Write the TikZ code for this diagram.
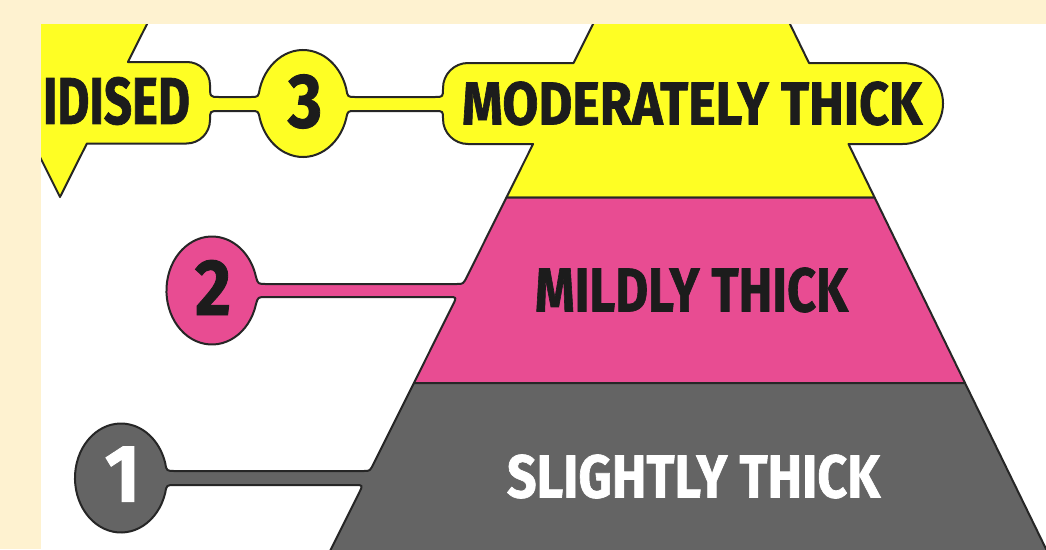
\documentclass[tikz,border=0pt]{standalone}
\usepackage{fontspec}
\usepackage{graphicx}
\newfontfamily\labelfont{Fira Sans}[BoldFeatures={FakeBold=1.2}]
\definecolor{bgcream}{RGB}{254,242,208}
\definecolor{tieryellow}{RGB}{254,254,36}
\definecolor{tierpink}{RGB}{232,76,146}
\definecolor{tiergray}{RGB}{100,100,100}
\definecolor{edgeline}{RGB}{38,38,38}
\definecolor{ink}{RGB}{28,28,28}
\newcommand{\fitword}[3]{\resizebox{#1pt}{#2pt}{\labelfont\bfseries #3}}

\begin{document}
\begin{tikzpicture}[x=1pt, y=-1pt,
    tier/.style={draw=edgeline, line width=2pt, line join=round},
    word/.style={inner sep=0pt, text=ink}]
  \useasboundingbox (0,0) rectangle (1046,549);
  \fill[bgcream] (0,0) rectangle (1046,549);
  \fill[white] (41,24) rectangle (1046,549);
  \begin{scope}
    \clip (41,24) rectangle (1046,549);
    % top tier, both tabs and pin 3
    \path[tier, fill=tieryellow] (30,0) -- (159.1,0) -- (127.9,62) -- (187,62)
      arc[start angle=-90, end angle=0, radius=23] .. controls (210,97) .. (219,97)
      -- (251,97) .. controls (258.3,97) .. (259.8,88.5)
      arc[start angle=196.28, end angle=343.72, x radius=45, y radius=53.5]
      .. controls (347.7,97) .. (355,97) -- (435,97) .. controls (443,97) .. (443,88)
      arc[start angle=180, end angle=270, radius=25]
      -- (573.5,63) -- (605,0) -- (778.3,0) -- (809,63) -- (902.5,63)
      arc[start angle=-90, end angle=90, radius=40.5]
      -- (848.5,144) -- (874.6,197.5) -- (506.4,197.5) -- (533.1,144) -- (468,144)
      arc[start angle=90, end angle=180, radius=25] .. controls (443,111) .. (435,111)
      -- (355,111) .. controls (347.7,111) .. (346.2,118.5)
      arc[start angle=16.28, end angle=163.72, x radius=45, y radius=53.5]
      .. controls (258.3,111) .. (251,111) -- (219,111) .. controls (210,111) .. (210,120)
      arc[start angle=0, end angle=90, radius=23.5]
      -- (86.9,143.5) -- (60,197) -- (30,137) -- cycle;
    % middle tier and pin 2
    \path[tier, fill=tierpink] (506.4,197.5) -- (874.6,197.5) -- (965,383) -- (413.9,383)
      -- (452.8,305) .. controls (456.8,297) .. (448.8,297) -- (266,297)
      .. controls (258,297) .. (255.9,304.5)
      arc[start angle=15.03, end angle=344.97, x radius=45.5, y radius=54]
      .. controls (258,284) .. (266,284) -- (457,284) .. controls (463.3,284) .. (467.3,276)
      -- cycle;
    % bottom tier and pin 1
    \path[tier, fill=tiergray] (413.9,383) -- (965,383) -- (1051.4,560) -- (325.5,560)
      -- (359,493) .. controls (363,485) .. (355,485) -- (175,485)
      .. controls (166.6,485) .. (165.2,493)
      arc[start angle=15.98, end angle=344.02, x radius=46, y radius=54.5]
      .. controls (166.6,471) .. (175,471) -- (364,471) .. controls (370,471) .. (373.9,463)
      -- cycle;
  \end{scope}
  \node[word] (idised) at (116.5,101) {\fitword{147}{47}{IDISED}};
  \node[word] (num3) at (305,101.5) {\fitword{34}{53}{3}};
  \node[word] (moderate) at (692,103.5) {\fitword{460}{43}{MODERATELY THICK}};
  \node[word] (num2) at (213,287.5) {\fitword{36}{55}{2}};
  \node[word] (mild) at (691.5,290) {\fitword{313}{44}{MILDLY THICK}};
  \node[word, text=white] (num1) at (122.5,474) {\fitword{35}{55}{1}};
  \node[word, text=white] (slight) at (693.5,476.5) {\fitword{373}{43}{SLIGHTLY THICK}};
\end{tikzpicture}
\end{document}
